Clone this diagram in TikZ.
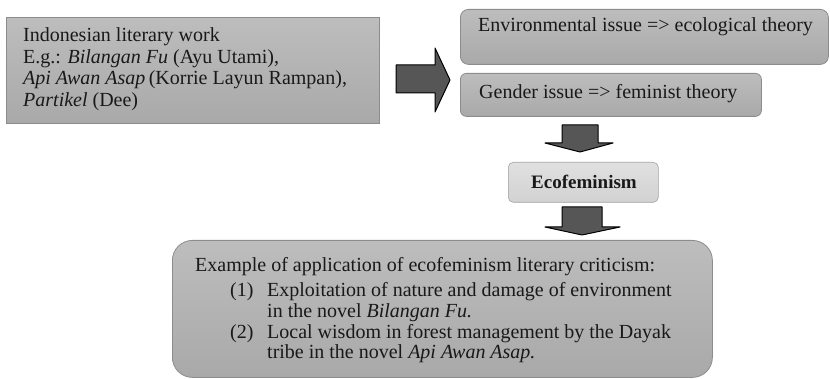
\documentclass[tikz,border=0pt]{standalone}
\usepackage{fontspec}
\setmainfont{Liberation Serif}
\definecolor{boxtop}{HTML}{BDBDBD}
\definecolor{boxbot}{HTML}{A9A9A9}
\definecolor{boxedge}{HTML}{8C8C8C}
\definecolor{lighttop}{HTML}{E0E0E0}
\definecolor{lightbot}{HTML}{D2D2D2}
\definecolor{arrowfill}{HTML}{565656}
\begin{document}
\begin{tikzpicture}[x=1pt,y=-1pt,
  box/.style={draw=boxedge, line width=0.8pt, top color=boxtop, bottom color=boxbot, anchor=north west, inner sep=0pt},
  lightbox/.style={draw=boxedge!80, line width=0.6pt, top color=lighttop, bottom color=lightbot, anchor=north west, inner sep=0pt, rounded corners=5pt},
  blockarrow/.style={draw=black, line width=1pt, fill=arrowfill, line join=round},
  txt/.style={font=\fontsize{20}{22}\selectfont, text=black!90, align=left, inner sep=0pt, anchor=base west}]
\useasboundingbox (0,0) rectangle (830,379);
% boxes
\node[box, minimum width=373pt, minimum height=106pt] (src) at (6,17) {};
\node[box, rounded corners=8pt, minimum width=368pt, minimum height=55pt] (env) at (460,9) {};
\node[box, rounded corners=6pt, minimum width=301pt, minimum height=43pt] (gen) at (460,73) {};
\node[lightbox, minimum width=150pt, minimum height=40pt] (eco) at (508,162) {};
\node[box, rounded corners=20pt, minimum width=540pt, minimum height=137pt] (ex) at (172,240) {};
% texts
\node[txt] (srct) at (23,42) {Indonesian literary work};
\node[txt] (srct2) at (23,63.5) {E.g.: \textit{Bilangan Fu} (Ayu Utami),};
\node[txt] (srct3) at (23,85) {\textit{Api Awan Asap}\,(Korrie Layun Rampan),};
\node[txt] (srct4) at (23,106.5) {\textit{Partikel} (Dee)};
\node[txt] (envt) at (478,32) {Environmental issue => ecological theory};
\node[txt] (gent) at (479,99) {Gender issue => feminist theory};
\node[txt, font=\fontsize{19}{21}\selectfont\bfseries, anchor=base] (ecot) at (584,189) {Ecofeminism};
\node[txt] (ext1) at (195,272) {Example of application of ecofeminism literary criticism:};
\node[txt] (ext2a) at (230,296.5) {(1)};
\node[txt] (ext2) at (267,296.5) {Exploitation of nature and damage of environment};
\node[txt] (ext3) at (267,317.5) {in the novel \textit{Bilangan Fu.}};
\node[txt] (ext4a) at (230,338) {(2)};
\node[txt] (ext4) at (267,338) {Local wisdom in forest management by the Dayak};
\node[txt] (ext5) at (267,359) {tribe in the novel \textit{Api Awan Asap.}};
% block arrows
\draw[blockarrow] (396,65) -- (435,65) -- (435,48) -- (450,80) -- (435,112) -- (435,93) -- (396,93) -- cycle;
\draw[blockarrow] (562,125) -- (598,125) -- (598,143) -- (613,143) -- (580,152) -- (545,143) -- (562,143) -- cycle;
\draw[blockarrow] (562,207) -- (602,207) -- (602,227) -- (620,227) -- (582,235) -- (545,227) -- (562,227) -- cycle;
\end{tikzpicture}
\end{document}
